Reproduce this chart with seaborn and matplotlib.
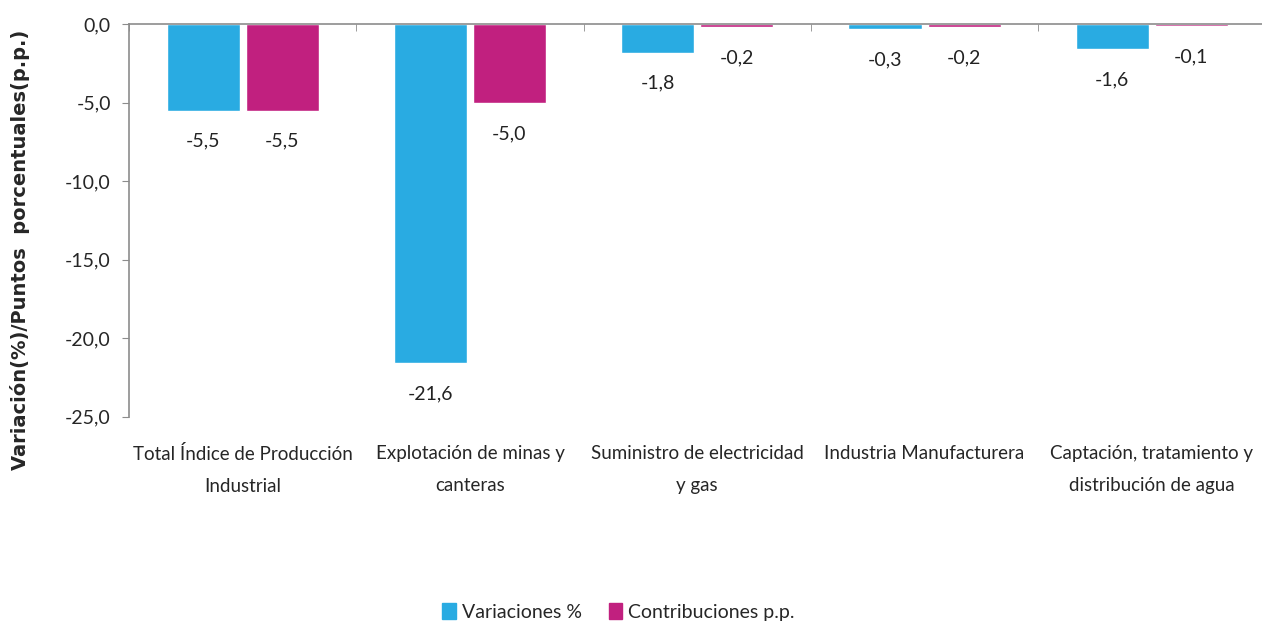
import pandas as pd
import matplotlib
matplotlib.use("Agg")
import matplotlib.pyplot as plt
import seaborn as sns
from matplotlib.ticker import FuncFormatter

# Data
categories = [
    "Total Índice de Producción\nIndustrial",
    "Explotación de minas y\ncanteras",
    "Suministro de electricidad\ny gas",
    "Industria Manufacturera",
    "Captación, tratamiento y\ndistribución de agua",
]
variaciones = [-5.5, -21.6, -1.8, -0.3, -1.6]
contribuciones = [-5.5, -5.0, -0.2, -0.2, -0.1]
series_names = ["Variaciones %", "Contribuciones p.p."]
colors = ["#29ABE2", "#C1207F"]

df = pd.DataFrame({
    "categoria": categories * 2,
    "valor": variaciones + contribuciones,
    "serie": [series_names[0]] * 5 + [series_names[1]] * 5,
})

sns.set_style("white")
plt.rcParams["font.family"] = ["Lato", "DejaVu Sans"]

fig = plt.figure(figsize=(12.62, 6.22), dpi=100)
ax = fig.add_axes([0.1022, 0.330, 0.9006, 0.631])

sns.barplot(data=df, x="categoria", y="valor", hue="serie", palette=colors,
            width=0.696, gap=0.076, ax=ax, legend=False, saturation=1)

def fmt(v):
    return f"{v:.1f}".replace(".", ",")

for cont in ax.containers:
    ax.bar_label(cont, labels=[fmt(b.get_height()) for b in cont],
                 padding=16, fontsize=14, color="#222222")

ax.set_ylim(-25, 0)
ax.set_xlim(-0.5, 4.5)
ax.yaxis.set_major_formatter(FuncFormatter(lambda v, p: fmt(v)))
ax.set_yticks([0, -5, -10, -15, -20, -25])
ax.set_xticks(range(5))
ax.set_xticklabels(categories, linespacing=2.1)
ax.set_xticks([i - 0.5 for i in range(6)], minor=True)
ax.set_xlabel("")
ax.set_ylabel("")

grey = "#8c8c8c"
for s in ["right", "bottom"]:
    ax.spines[s].set_visible(False)
for s in ["left", "top"]:
    ax.spines[s].set_color(grey)
    ax.spines[s].set_linewidth(1.2)

ax.tick_params(axis="y", which="major", left=True, length=5, color=grey,
               labelsize=14, pad=8)
ax.tick_params(axis="x", which="major", length=0, labelsize=13.5, pad=20)
ax.tick_params(axis="x", which="minor", top=True, bottom=False,
               direction="in", length=5, color=grey)

fig.text(0.016, 0.598, "Variación(%)/Puntos  porcentuales(p.p.)", rotation=90,
         ha="center", va="center", fontsize=14, fontweight="bold",
         family=["DejaVu Sans"])

handles = [plt.Rectangle((0, 0), 1, 1, color=c) for c in colors]
fig.legend(handles, series_names, loc="lower center", bbox_to_anchor=(0.49, -0.026),
           ncol=2, frameon=False, fontsize=14, handlelength=0.7,
           handleheight=0.9, handletextpad=0.3, columnspacing=1.4)

fig.savefig("out.png", dpi=100)
